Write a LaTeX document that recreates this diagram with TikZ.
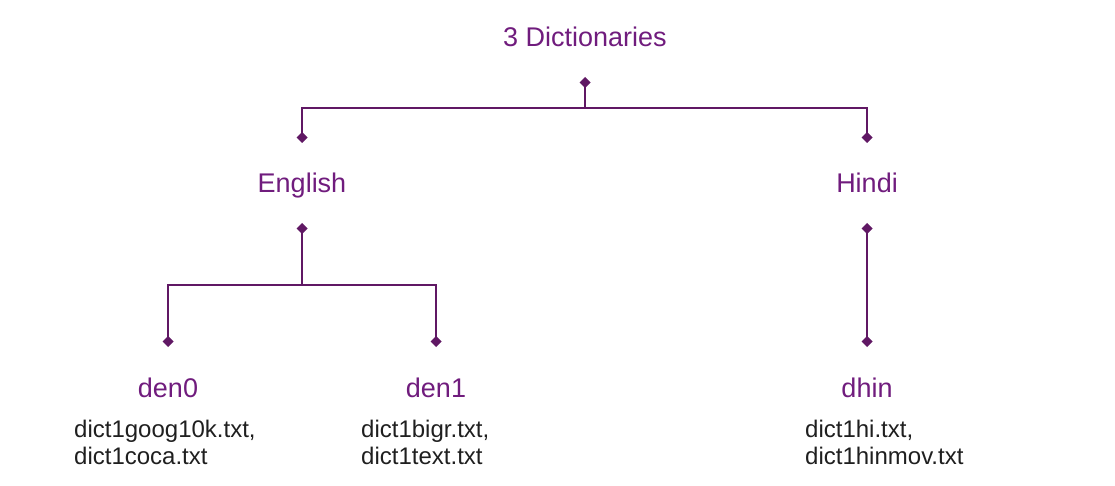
\documentclass[tikz,border=0pt]{standalone}
\usepackage{fontspec}
\setmainfont{Liberation Sans}
\usetikzlibrary{arrows.meta,positioning}
\definecolor{dictpurple}{RGB}{112,28,125}
\definecolor{linkpurple}{RGB}{96,24,100}
\tikzset{
    lang/.style={text=dictpurple, font=\fontsize{27}{32}\selectfont, inner sep=0pt, anchor=base},
    files/.style={text=black!88, font=\fontsize{24}{27}\selectfont, inner sep=0pt, align=left, anchor=base west},
    link/.style={draw=linkpurple, line width=1.8pt},
    dtip/.tip={Diamond[length=11pt,width=11pt]},
}

\begin{document}
\begin{tikzpicture}[x=1pt,y=-1pt]
    \useasboundingbox (0,0) rectangle (1115,486);
    % labels
    \node[lang] (root) at (585,47) {3 Dictionaries};
    \node[lang] (eng) at (302,193) {English};
    \node[lang] (hin) at (867,193) {Hindi};
    \node[lang] (den0) at (168,397) {den0};
    \node[lang] (den1) at (436,397) {den1};
    \node[lang] (dhin) at (867,397) {dhin};
    % file lists (base = last line)
    \node[files] (den0f) at (74,464) {dict1goog10k.txt,\\dict1coca.txt};
    \node[files] (den1f) at (361,464) {dict1bigr.txt,\\dict1text.txt};
    \node[files] (dhinf) at (805,464) {dict1hi.txt,\\dict1hinmov.txt};
    % connector points
    \coordinate (roottip) at (585,77);
    \coordinate (rootbar) at (585,108);
    \coordinate (engin) at (302,143);
    \coordinate (hinin) at (867,143);
    \coordinate (engtip) at (302,223);
    \coordinate (engbar) at (302,285);
    \coordinate (den0in) at (168,347);
    \coordinate (den1in) at (436,347);
    \coordinate (hintip) at (867,223);
    \coordinate (dhinin) at (867,347);
    % connectors
    \draw[link, {dtip}-] (roottip) -- (rootbar);
    \draw[link, -{dtip}] (rootbar) -| (engin);
    \draw[link, -{dtip}] (rootbar) -| (hinin);
    \draw[link, {dtip}-] (engtip) -- (engbar);
    \draw[link, -{dtip}] (engbar) -| (den0in);
    \draw[link, -{dtip}] (engbar) -| (den1in);
    \draw[link, {dtip}-{dtip}] (hintip) -- (dhinin);
\end{tikzpicture}
\end{document}
